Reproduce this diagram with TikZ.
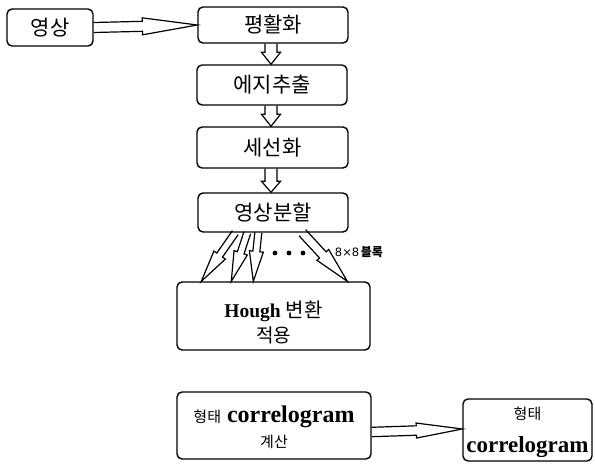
\documentclass[tikz,border=0pt]{standalone}
\usepackage{fontspec}
\setmainfont{Liberation Serif}
\newfontfamily\kr{Noto Sans CJK KR}
\newfontfamily\djv{DejaVu Sans}
\usetikzlibrary{calc}
% #1 start, #2 tip, #3 shaft half width, #4 head half width, #5 head length, #6 helper name
\newcommand\hollowarrow[6]{%
  \coordinate (#6) at ($(#2)!#5!(#1)$);
  \draw[hollow] ($(#1)!#3!90:(#2)$) -- ($(#6)!#3!90:(#2)$) -- ($(#6)!#4!90:(#2)$)
    -- (#2) -- ($(#6)!#4!-90:(#2)$) -- ($(#6)!#3!-90:(#2)$) -- ($(#1)!#3!-90:(#2)$);
}
\begin{document}
\begin{tikzpicture}[x=1pt,y=-1pt,
  box/.style={draw, line width=1.4pt, rounded corners=5pt, inner sep=0pt, align=center},
  topbox/.style={box, font=\kr\fontsize{21}{24}\selectfont},
  txt/.style={inner sep=0pt, align=center},
  hollow/.style={draw, line width=1.2pt, line join=miter}]
\useasboundingbox (0,0) rectangle (595,464);

\node[topbox, minimum width=86pt, minimum height=37pt] (img) at (50,27.5) {영상};
\node[topbox, minimum width=150pt, minimum height=36pt] (smooth) at (273,25) {평활화};
\node[topbox, minimum width=150pt, minimum height=40pt] (edge) at (272,85) {에지추출};
\node[topbox, minimum width=151pt, minimum height=41pt] (thin) at (272.5,147.5) {세선화};
\node[topbox, minimum width=150pt, minimum height=39pt] (split) at (273,212.5) {영상분할};

\node[box, minimum width=193pt, minimum height=68pt] (hough) at (273.5,316) {};
\node[txt, font=\fontsize{19.5}{25}\selectfont] (hought) at ($(hough.center)+(0,6)$)
  {{\bfseries Hough} {\kr\fontsize{20}{25}\selectfont 변환}\\{\kr\fontsize{19}{25}\selectfont 적용}};

\node[box, minimum width=194pt, minimum height=67pt] (calc) at (274,425.5) {};
\node[txt, font=\fontsize{24}{25}\selectfont] (calct) at ($(calc.center)+(0,2)$)
  {{\kr\fontsize{15}{25}\selectfont 형태}\ {\bfseries correlogram}\\{\kr\fontsize{15}{25}\selectfont 계산}};

\node[box, minimum width=129pt, minimum height=62pt] (corr) at (527.5,430) {};
\node[txt, font=\fontsize{23}{33}\selectfont] (corrt) at ($(corr.center)+(0,2)$)
  {{\kr\fontsize{15}{33}\selectfont 형태}\\{\bfseries correlogram}};

\node[inner sep=0pt] (blk) at (359,252)
  {{\djv\fontsize{11.5}{13}\selectfont 8×8}\,{\kr\bfseries\fontsize{12}{13}\selectfont 블록}};

% top horizontal arrow
\hollowarrow{img.east}{smooth.west}{5pt}{8.5pt}{55pt}{h0}

% vertical arrows
\coordinate (v1s) at ($(smooth.south)+(-2,0)$);
\coordinate (v1e) at ($(edge.north)+(-1,0)$);
\coordinate (v2s) at ($(edge.south)+(-1,0)$);
\coordinate (v2e) at ($(thin.north)+(-1.5,0)$);
\coordinate (v3s) at ($(thin.south)+(-1.5,0)$);
\coordinate (v3e) at ($(split.north)+(-2,0)$);
\hollowarrow{v1s}{v1e}{6pt}{9.5pt}{12pt}{h1}
\hollowarrow{v2s}{v2e}{6pt}{9.5pt}{12pt}{h2}
\hollowarrow{v3s}{v3e}{6pt}{9.5pt}{11pt}{h3}

% diagonal arrows to Hough box
\coordinate (d1s) at ($(split.south west)+(38,0)$);
\coordinate (d2s) at ($(split.south west)+(50,0)$);
\coordinate (d3s) at ($(split.south west)+(61,0)$);
\coordinate (d4s) at ($(split.south west)+(105,0)$);
\coordinate (d1e) at ($(hough.north west)+(25,0)$);
\coordinate (d2e) at ($(hough.north west)+(55,0)$);
\coordinate (d3e) at ($(hough.north west)+(77,0)$);
\coordinate (d4e) at ($(hough.north west)+(171,0)$);
\hollowarrow{d1s}{d1e}{3.5pt}{7pt}{32pt}{k1}
\hollowarrow{d2s}{d2e}{3.5pt}{7pt}{30pt}{k2}
\hollowarrow{d3s}{d3e}{3.5pt}{7pt}{30pt}{k3}
\hollowarrow{d4s}{d4e}{4.5pt}{8pt}{36pt}{k4}

% dots
\fill (275,253) circle (2.4);
\fill (289,253) circle (2.4);
\fill (303,253) circle (2.4);

% bottom horizontal arrow
\coordinate (b1s) at ($(calc.east)+(0,6.5)$);
\coordinate (b1e) at ($(corr.west)+(0,-1)$);
\hollowarrow{b1s}{b1e}{4.7pt}{7.5pt}{46pt}{h4}
\end{tikzpicture}
\end{document}
